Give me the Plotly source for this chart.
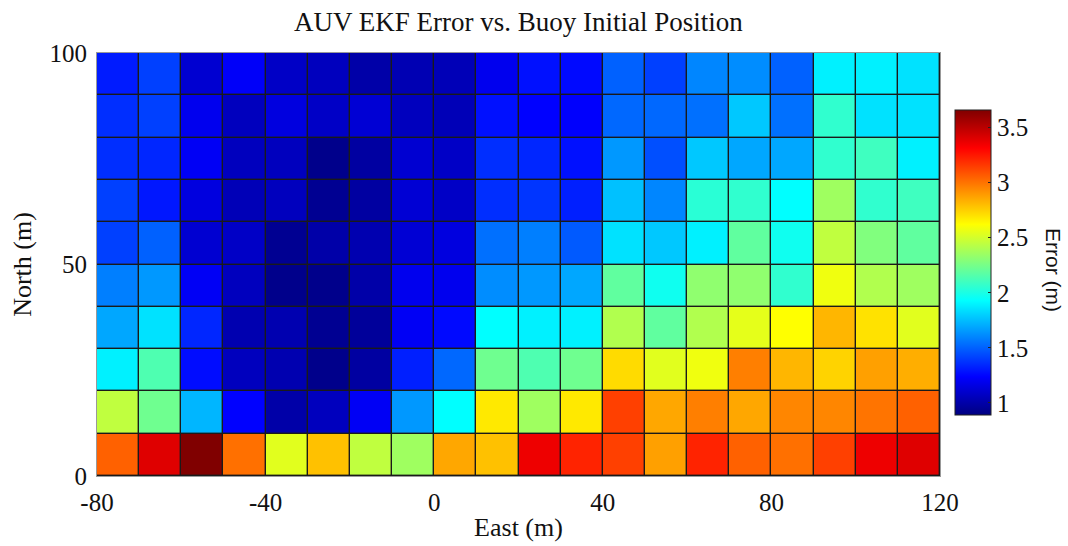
import plotly.graph_objects as go

# Cell edges (m)
east_edges = [-80, -70, -60, -50, -40, -30, -20, -10, 0, 10, 20, 30, 40, 50, 60, 70, 80, 90, 100, 110, 120]
north_edges = [0, 10, 20, 30, 40, 50, 60, 70, 80, 90, 100]

# EKF error (m), one row per north band, from south (0-10 m) to north (90-100 m)
error_0_10 = [3.05, 3.40, 3.66, 3.01, 2.54, 2.79, 2.45, 2.36, 2.86, 2.79, 3.36, 3.22, 3.14, 2.88, 3.22, 3.05, 3.01, 3.14, 3.36, 3.40]
error_10_20 = [2.45, 2.23, 1.73, 1.24, 1.00, 1.06, 1.21, 1.65, 1.93, 2.68, 2.36, 2.68, 3.14, 2.86, 2.97, 2.86, 2.95, 2.95, 3.00, 3.05]
error_20_30 = [1.89, 2.14, 1.27, 1.06, 1.02, 0.92, 0.98, 1.32, 1.52, 2.23, 2.14, 2.23, 2.72, 2.54, 2.58, 2.97, 2.82, 2.74, 2.88, 2.84]
error_30_40 = [1.69, 1.85, 1.34, 1.02, 1.02, 0.94, 0.96, 1.21, 1.26, 1.93, 1.89, 1.89, 2.41, 2.19, 2.41, 2.55, 2.62, 2.82, 2.70, 2.54]
error_40_50 = [1.58, 1.65, 1.21, 1.06, 0.92, 0.92, 1.00, 1.19, 1.19, 1.62, 1.65, 1.69, 2.19, 1.97, 2.32, 2.32, 2.06, 2.58, 2.41, 2.36]
error_50_60 = [1.41, 1.50, 1.11, 1.08, 0.94, 1.00, 1.02, 1.12, 1.15, 1.54, 1.58, 1.48, 1.85, 1.78, 1.89, 2.19, 1.97, 2.45, 2.28, 2.19]
error_60_70 = [1.41, 1.30, 1.15, 1.04, 1.06, 0.94, 0.98, 1.12, 1.08, 1.36, 1.38, 1.32, 1.76, 1.60, 2.04, 2.06, 1.93, 2.36, 2.06, 2.10]
error_70_80 = [1.36, 1.34, 1.21, 1.06, 1.06, 0.92, 0.98, 1.11, 1.08, 1.36, 1.34, 1.28, 1.65, 1.45, 1.78, 1.69, 1.69, 2.06, 2.10, 1.89]
error_80_90 = [1.36, 1.41, 1.19, 1.06, 1.15, 1.08, 1.12, 1.06, 1.04, 1.28, 1.24, 1.23, 1.52, 1.52, 1.54, 1.78, 1.54, 2.06, 1.85, 1.85]
error_90_100 = [1.31, 1.41, 1.11, 1.22, 1.08, 1.06, 1.00, 1.03, 1.04, 1.19, 1.28, 1.26, 1.50, 1.41, 1.60, 1.62, 1.50, 1.89, 1.89, 1.85]

error_grid = [error_0_10, error_10_20, error_20_30, error_30_40, error_40_50,
              error_50_60, error_60_70, error_70_80, error_80_90, error_90_100]

colorbar_ticks = [1, 1.5, 2, 2.5, 3, 3.5]
east_ticks = [-80, -40, 0, 40, 80, 120]
north_ticks = [0, 50, 100]

# Classic MATLAB jet map
jet = [
    [0.0, "#000080"],
    [0.125, "#0000FF"],
    [0.375, "#00FFFF"],
    [0.625, "#FFFF00"],
    [0.875, "#FF0000"],
    [1.0, "#800000"],
]

serif = "Liberation Serif"
tick_font = dict(family=serif, size=25, color="#111")
label_font = dict(family=serif, size=26, color="#111")

W, H = 1068, 546
L, R, T, B = 97, 128, 53, 70
plot_h = H - T - B
plot_w = W - L - R

fig = go.Figure(
    go.Heatmap(
        x=east_edges,
        y=north_edges,
        z=error_grid,
        colorscale=jet,
        zmin=0.89,
        zmax=3.66,
        xgap=1.4,
        ygap=1.4,
        colorbar=dict(
            x=(955 - L) / plot_w,
            xanchor="left",
            y=(H - B - 262.5) / plot_h,
            yanchor="middle",
            len=305 / plot_h,
            lenmode="fraction",
            thickness=36,
            thicknessmode="pixels",
            outlinecolor="#222",
            outlinewidth=1,
            tickvals=colorbar_ticks,
            ticktext=[f"{v:g}" for v in colorbar_ticks],
            ticks="inside",
            ticklen=3,
            tickcolor="#222",
            tickfont=tick_font,
            xpad=0,
            ypad=0,
        ),
    )
)

fig.update_layout(
    width=W,
    height=H,
    margin=dict(l=L, r=R, t=T, b=B, autoexpand=False),
    paper_bgcolor="white",
    plot_bgcolor="#1a1a1a",
    title=dict(
        text="AUV EKF Error vs. Buoy Initial Position",
        x=(L + plot_w / 2) / W,
        xanchor="center",
        y=1 - 22 / H,
        yanchor="middle",
        font=dict(family=serif, size=27, color="#111"),
    ),
    xaxis=dict(
        range=[-80, 120],
        tickvals=east_ticks,
        ticktext=[str(v) for v in east_ticks],
        ticks="",
        ticklabelstandoff=4,
        automargin=False,
        showgrid=False,
        zeroline=False,
        showline=True,
        linecolor="#999",
        mirror=True,
        tickfont=tick_font,
        title=dict(text="East (m)", font=label_font, standoff=2),
    ),
    yaxis=dict(
        range=[0, 100],
        tickvals=north_ticks,
        ticktext=[str(v) for v in north_ticks],
        ticks="",
        ticklabelstandoff=4,
        automargin=False,
        showgrid=False,
        zeroline=False,
        showline=True,
        linecolor="#999",
        mirror=True,
        tickfont=tick_font,
        title=dict(text="North (m)", font=label_font, standoff=10),
    ),
    annotations=[
        dict(
            text="Error (m)",
            xref="paper",
            yref="paper",
            x=(1054 - L) / plot_w,
            y=(H - B - 270) / plot_h,
            xanchor="center",
            yanchor="middle",
            textangle=90,
            showarrow=False,
            font=dict(family="Liberation Sans", size=21, color="#111"),
        )
    ],
)

fig.write_html("out.html")
